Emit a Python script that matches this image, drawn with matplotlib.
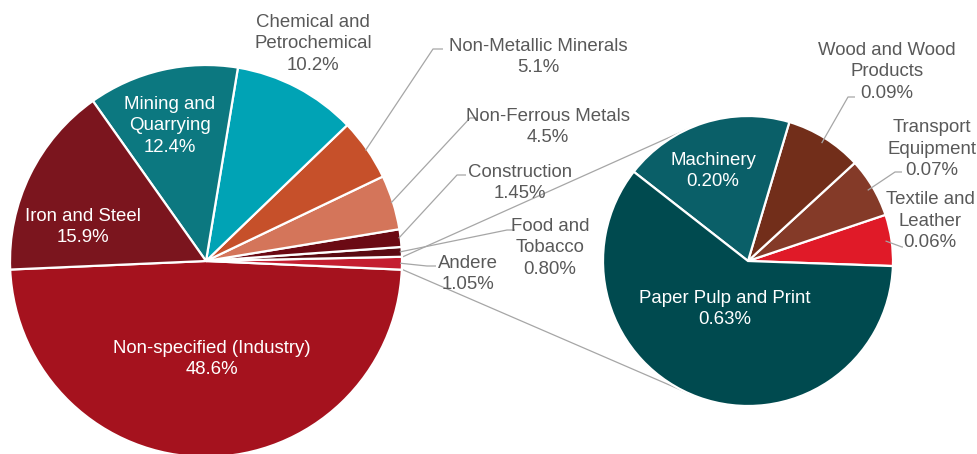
import numpy as np
import matplotlib
matplotlib.use("Agg")
import matplotlib.pyplot as plt

plt.rcParams['font.family'] = ['Liberation Sans', 'DejaVu Sans']

# main pie: industry shares of final energy use
main_names = ['Non-specified (Industry)', 'Andere', 'Food and\nTobacco', 'Construction',
              'Non-Ferrous Metals', 'Non-Metallic Minerals', 'Chemical and\nPetrochemical',
              'Mining and\nQuarrying', 'Iron and Steel']
main_values = [48.6, 1.05, 0.80, 1.45, 4.5, 5.1, 10.2, 12.4, 15.9]
main_decimals = [1, 2, 2, 2, 1, 1, 1, 1, 1]
main_colors = ['#A5121E', '#C41E30', '#5A0A12', '#6B0A14', '#D4755A',
               '#C6502A', '#00A3B5', '#0C7880', '#7B151E']

# breakdown of "Andere"
sub_names = ['Textile and\nLeather', 'Transport\nEquipment', 'Wood and Wood\nProducts',
             'Machinery', 'Paper Pulp and Print']
sub_values = [0.06, 0.07, 0.09, 0.20, 0.63]
sub_decimals = [2, 2, 2, 2, 2]
sub_colors = ['#E01A28', '#843A28', '#722E1A', '#0A5F68', '#004A4F']

W, H = 977, 454
fig = plt.figure(figsize=(W / 100, H / 100), dpi=100)
ax = fig.add_axes([0, 0, 1, 1])

c1, r1 = (206, H - 261), 196
c2, r2 = (748, H - 261), 145

wedges1, _ = ax.pie(main_values, colors=main_colors, startangle=182.5, center=c1, radius=r1,
                    wedgeprops=dict(edgecolor='white', linewidth=1.6))
wedges2, _ = ax.pie(sub_values, colors=sub_colors, startangle=-2, center=c2, radius=r2,
                    wedgeprops=dict(edgecolor='white', linewidth=1.6))
ax.set_xlim(0, W)
ax.set_ylim(0, H)
ax.set_aspect('equal')
ax.axis('off')

grey = '#A6A6A6'
txt = '#595959'
fs = 13.4
ls = 1.37


def label(name, val, dec):
    return '{}\n{:.{}f}%'.format(name, val, dec)


def edge_point(w, center, r, ang=None):
    if ang is None:
        ang = (w.theta1 + w.theta2) / 2
    a = np.radians(ang)
    return center[0] + r * np.cos(a), center[1] + r * np.sin(a)


# labels inside the slices (x, y in pixels from top-left)
inside = {0: (212, 359), 7: (170, 126), 8: (83, 227)}
for i, (x, y) in inside.items():
    ax.text(x, H - y, label(main_names[i], main_values[i], main_decimals[i]),
            ha='center', va='center', color='white', fontsize=fs, linespacing=ls)
inside2 = {3: (713, 171), 4: (725, 309)}
for i, (x, y) in inside2.items():
    ax.text(x, H - y, label(sub_names[i], sub_values[i], sub_decimals[i]),
            ha='center', va='center', color='white', fontsize=fs, linespacing=ls)

# outside labels: text centre, leader elbow, leader end
outside = {6: ((313, 44), None, None),
           5: ((538, 57), (433, 49), (443, 49)),
           4: ((548, 127), (470, 118), (478, 118)),
           3: ((520, 183), (457, 175), (466, 175)),
           2: ((550, 248), (507, 230), (515, 230)),
           1: ((468, 274), (427, 266), (436, 266))}
for i, (pos, elbow, end) in outside.items():
    ax.text(pos[0], H - pos[1], label(main_names[i], main_values[i], main_decimals[i]),
            ha='center', va='center', color=txt, fontsize=fs, linespacing=ls)
    if elbow is not None:
        sx, sy = edge_point(wedges1[i], c1, r1 - 2)
        ax.plot([sx, elbow[0], end[0]], [sy, H - elbow[1], H - end[1]],
                color=grey, lw=0.9, solid_capstyle='butt')

outside2 = {2: ((887, 72), (848, 97), (855, 97)),
            1: ((932, 149), (895, 172), (902, 172)),
            0: ((930, 221), (902, 247), (903, 247))}
for i, (pos, elbow, end) in outside2.items():
    ax.text(pos[0], H - pos[1], label(sub_names[i], sub_values[i], sub_decimals[i]),
            ha='center', va='center', color=txt, fontsize=fs, linespacing=ls)
    sx, sy = edge_point(wedges2[i], c2, r2 - 6)
    ax.plot([sx, elbow[0], end[0]], [sy, H - elbow[1], H - end[1]],
            color=grey, lw=0.9, solid_capstyle='butt')

# connector lines from the "Andere" slice to tangents of the sub pie
andere = wedges1[1]
for ang, sign in [(andere.theta2, 1), (andere.theta1, -1)]:
    px, py = edge_point(andere, c1, r1 + 1, ang)
    dx, dy = px - c2[0], py - c2[1]
    d = np.hypot(dx, dy)
    phi = np.arctan2(dy, dx)
    t = phi - sign * np.arccos(r2 / d)
    tx, ty = c2[0] + r2 * np.cos(t), c2[1] + r2 * np.sin(t)
    ax.plot([px, tx], [py, ty], color=grey, lw=0.9, zorder=0)

fig.savefig('out.png', dpi=100, facecolor='white')
